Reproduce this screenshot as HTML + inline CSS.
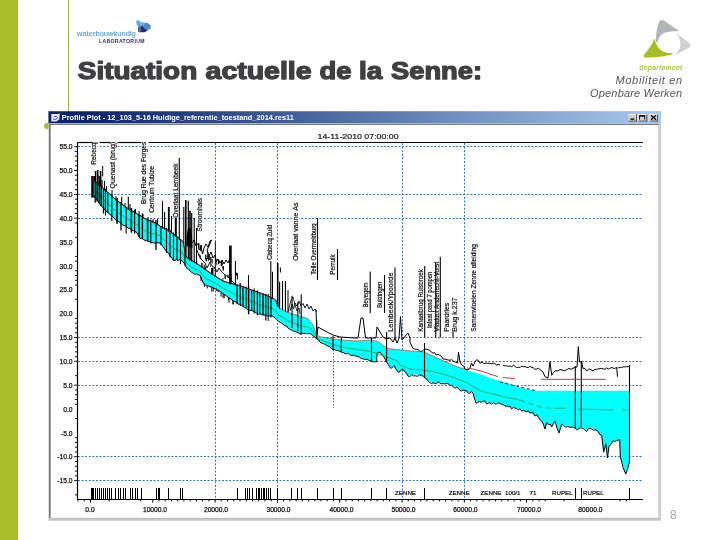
<!DOCTYPE html>
<html><head><meta charset="utf-8"><title>slide</title>
<style>
html,body{margin:0;padding:0;background:#fff;}
body{width:720px;height:540px;position:relative;overflow:hidden;font-family:"Liberation Sans",sans-serif;}
.bar{position:absolute;left:0;top:0;width:18.3px;height:540px;background:#a9bd2a;}
.vline{position:absolute;left:68.2px;top:0;width:0.9px;height:112px;background:#a6b545;}
.dot{position:absolute;left:44.3px;top:122.8px;width:6.2px;height:6.2px;border-radius:50%;background:#a9bd2a;}
svg{position:absolute;left:0;top:0;will-change:transform;}
svg text{font-family:"Liberation Sans",sans-serif;}
.g{stroke:#2a6ebc;stroke-width:1;stroke-dasharray:1.9 1.7;}
.k{stroke:#000;stroke-width:1.1;}
.vl{font-size:6.6px;fill:#111;stroke:#111;stroke-width:0.2px;font-family:"Liberation Sans",sans-serif;}
.yl{font-size:6.7px;fill:#111;stroke:#111;stroke-width:0.25px;text-anchor:end;font-family:"Liberation Sans",sans-serif;}
.xl{font-size:6.7px;fill:#111;stroke:#111;stroke-width:0.25px;text-anchor:middle;font-family:"Liberation Sans",sans-serif;}
.bl{font-size:6.2px;fill:#111;stroke:#111;stroke-width:0.2px;font-family:"Liberation Sans",sans-serif;}
.tt{font-size:8px;fill:#111;stroke:#111;stroke-width:0.2px;text-anchor:middle;font-family:"Liberation Sans",sans-serif;}
</style></head><body>
<div class="bar"></div><div class="vline"></div><div class="dot"></div>
<svg width="720" height="540" viewBox="0 0 720 540">
<defs><linearGradient id="tbg" x1="0" y1="0" x2="1" y2="0"><stop offset="0" stop-color="#0a246a"/><stop offset="0.06" stop-color="#0a246a"/><stop offset="1" stop-color="#a6caf0"/></linearGradient></defs>
<rect x="48.4" y="111.3" width="612.5" height="409.5" fill="#cac8c4"/>
<rect x="49.3" y="111.3" width="1.45" height="406.6" fill="#5a5a5a"/>
<rect x="50.7" y="124.9" width="607.6" height="393" fill="#fff"/>
<rect x="48.5" y="111.3" width="612.5" height="12" fill="url(#tbg)"/>
<rect x="48.5" y="123.3" width="610" height="0.9" fill="#b8b8b8"/>
<rect x="50" y="124.1" width="608.5" height="0.9" fill="#777"/>
<rect x="50.7" y="517.9" width="607.6" height="0.6" fill="#b4b2ae"/>
<path d="M51.3,114 L58.2,114 L59.8,113.2 L59.3,119.2 L56.5,121.4 L51.3,121.4 Z" fill="#e8e6fa"/>
<path d="M53,118.8 C54.5,120.2 56.8,119.6 57.6,117.4 L56.4,116.4 L54,116.6" fill="none" stroke="#2a3ca0" stroke-width="0.9"/>
<text x="61.8" y="119.8" font-size="6.6" font-weight="bold" fill="#fff" textLength="232" lengthAdjust="spacingAndGlyphs">Profile Plot - 12_103_5-16 Huidige_referentie_toestand_2014.res11</text>
<g>
<rect x="628.3" y="114.2" width="8" height="7.3" fill="#d4d0c8"/><rect x="628.3" y="120.7" width="8.6" height="0.8" fill="#404040"/><rect x="636.1" y="114.2" width="0.8" height="7.3" fill="#404040"/><rect x="628.3" y="114.2" width="8" height="0.7" fill="#fff"/>
<rect x="638.2" y="114.2" width="8.4" height="7.3" fill="#d4d0c8"/><rect x="638.2" y="120.7" width="9" height="0.8" fill="#404040"/><rect x="646.4" y="114.2" width="0.8" height="7.3" fill="#404040"/><rect x="637.6" y="114.2" width="0.8" height="7.3" fill="#fff"/><rect x="638.2" y="114.2" width="8.4" height="0.7" fill="#fff"/>
<rect x="649.4" y="114.2" width="8" height="7.3" fill="#d4d0c8"/><rect x="649.4" y="120.7" width="8.6" height="0.8" fill="#404040"/><rect x="657.2" y="114.2" width="0.8" height="7.3" fill="#404040"/><rect x="648.8" y="114.2" width="0.8" height="7.3" fill="#fff"/><rect x="649.4" y="114.2" width="8" height="0.7" fill="#fff"/>
<rect x="630.4" y="118.5" width="3.9" height="1.3" fill="#000"/>
<path d="M639.5,119.6 L639.5,115.8 L644.7,115.8 L644.7,119.6" fill="none" stroke="#000" stroke-width="0.9"/><rect x="639" y="115.2" width="6.2" height="1.4" fill="#000"/>
<path d="M651,115.2 L656,119.7 M656,115.2 L651,119.7" stroke="#000" stroke-width="1.3" fill="none"/>
</g>
<line x1="78.0" y1="146.5" x2="643.0" y2="146.5" class="g"/>
<line x1="78.0" y1="194.5" x2="643.0" y2="194.5" class="g"/>
<line x1="78.0" y1="218.5" x2="643.0" y2="218.5" class="g"/>
<line x1="78.0" y1="337.5" x2="643.0" y2="337.5" class="g"/>
<line x1="78.0" y1="361.5" x2="643.0" y2="361.5" class="g"/>
<line x1="78.0" y1="385.5" x2="643.0" y2="385.5" class="g"/>
<line x1="78.0" y1="456.5" x2="643.0" y2="456.5" class="g"/>
<line x1="78.0" y1="480.5" x2="643.0" y2="480.5" class="g"/>
<line x1="215.5" y1="143" x2="215.5" y2="499" class="g"/>
<line x1="277.5" y1="143" x2="277.5" y2="499" class="g"/>
<line x1="402.5" y1="143" x2="402.5" y2="499" class="g"/>
<line x1="464.5" y1="143" x2="464.5" y2="499" class="g"/>
<line x1="333.5" y1="350" x2="333.5" y2="408" stroke="#2a8a2a" stroke-width="1" stroke-dasharray="1.5 1.5"/>
<rect x="90.9" y="141.9" width="6.6" height="23.3" fill="#fff"/>
<rect x="109.8" y="141.2" width="6.6" height="47.7" fill="#fff"/>
<rect x="140.9" y="141.2" width="6.6" height="63.3" fill="#fff"/>
<rect x="148.3" y="165.5" width="6.6" height="47.8" fill="#fff"/>
<rect x="172.6" y="162.9" width="6.6" height="55.4" fill="#fff"/>
<rect x="196.4" y="197.4" width="6.6" height="34.5" fill="#fff"/>
<rect x="266.5" y="224.5" width="6.6" height="35.8" fill="#fff"/>
<rect x="292.6" y="202.0" width="6.6" height="59.3" fill="#fff"/>
<rect x="310.2" y="222.8" width="6.6" height="52.4" fill="#fff"/>
<rect x="329.8" y="253.7" width="6.6" height="21.5" fill="#fff"/>
<rect x="362.9" y="282.0" width="6.6" height="26.0" fill="#fff"/>
<rect x="376.9" y="281.2" width="6.6" height="27.3" fill="#fff"/>
<rect x="387.8" y="272.0" width="6.6" height="60.2" fill="#fff"/>
<rect x="417.6" y="268.5" width="6.6" height="63.7" fill="#fff"/>
<rect x="426.8" y="271.2" width="6.6" height="57.3" fill="#fff"/>
<rect x="433.5" y="261.2" width="6.6" height="71.0" fill="#fff"/>
<rect x="443.5" y="302.5" width="6.6" height="29.7" fill="#fff"/>
<rect x="451.8" y="297.0" width="6.6" height="35.2" fill="#fff"/>
<rect x="470.1" y="243.5" width="6.6" height="88.7" fill="#fff"/>
<polygon points="91.5,178.0 94.0,181.0 101.7,187.5 108.3,193.3 116.7,200.8 126.7,208.3 136.7,214.0 146.7,220.0 156.7,224.0 160.0,226.7 170.0,231.7 178.3,238.3 183.0,242.0 184.5,249.0 185.0,256.0 187.5,258.3 198.3,265.0 210.0,273.3 223.3,281.7 236.7,285.5 240.0,286.0 250.0,290.0 261.7,294.0 273.3,299.0 276.0,301.0 278.3,307.5 288.3,312.5 296.7,315.0 306.7,318.3 308.3,319.0 313.0,325.0 316.7,335.0 320.0,336.7 333.3,339.0 341.7,340.0 356.7,341.0 371.5,340.0 377.8,341.4 382.8,345.0 386.6,348.3 396.7,349.6 410.5,350.9 423.3,351.7 433.0,356.0 443.3,360.8 455.0,365.8 466.7,370.0 480.0,374.0 493.3,379.0 506.7,383.0 516.7,386.7 535.0,390.8 629.5,390.8 629.5,461.7 627.5,468.0 625.8,475.0 623.0,466.0 620.3,455.0 619.7,440.8 616.7,440.0 613.0,441.7 609.0,445.0 607.5,457.5 605.8,445.0 603.7,453.0 601.7,436.7 598.0,432.5 591.7,427.5 586.7,430.0 581.7,426.7 576.7,430.0 575.0,427.5 568.0,426.7 561.7,424.0 559.0,433.0 555.0,421.7 551.7,426.7 546.7,422.5 545.0,429.0 541.7,420.8 536.7,415.8 526.7,411.7 520.0,409.0 506.7,406.7 496.7,403.0 486.7,402.5 476.0,401.7 473.0,392.5 465.0,391.7 455.0,386.7 443.0,382.5 433.0,383.0 425.0,379.0 423.1,376.7 415.6,374.2 408.0,375.4 403.0,370.4 398.6,372.9 394.2,366.6 390.4,367.2 386.6,361.6 384.0,356.5 380.3,352.7 377.2,352.7 376.5,361.6 371.5,361.6 365.2,359.0 352.6,355.3 341.7,352.5 333.0,349.0 321.7,343.0 316.7,339.0 310.0,334.0 300.0,334.0 290.0,329.0 280.0,322.0 273.3,316.7 261.7,315.0 250.0,310.0 240.0,305.0 230.0,299.0 216.7,289.0 210.0,286.7 203.3,283.3 200.0,275.0 193.3,273.3 186.7,268.3 183.3,261.7 180.0,260.0 173.3,260.0 168.3,253.3 160.0,243.0 151.7,243.0 140.0,238.0 136.7,233.0 126.7,226.7 118.0,221.7 108.0,213.0 101.7,206.7 94.0,196.0 91.5,195.0" fill="#00ffff"/>
<polyline points="91.5,194.8 94.0,195.5 95.9,198.9 97.8,200.8 99.8,204.1 101.7,206.5 103.8,208.2 105.9,210.9 108.0,212.4 109.7,214.4 111.3,215.3 113.0,216.8 114.7,218.7 116.3,220.7 118.0,221.2 119.7,222.3 121.5,223.9 123.2,225.3 125.0,225.8 126.7,226.6 128.4,228.4 130.0,228.2 131.7,230.4 133.4,230.6 135.0,231.5 136.7,232.5 138.3,235.2 140.0,238.4 141.7,238.3 143.3,239.5 145.0,240.3 146.7,240.7 148.4,241.6 150.0,241.7 151.7,242.4 153.4,242.6 155.0,243.3 156.7,242.9 158.3,242.7 160.0,243.1 161.7,245.0 163.3,246.8 165.0,249.6 166.6,251.5 168.3,252.9 170.0,255.6 171.6,257.8 173.3,260.5 175.0,260.3 176.7,259.7 178.3,260.7 180.0,259.5 181.7,260.7 183.3,262.1 185.0,264.5 186.7,268.3 188.3,268.9 190.0,271.0 191.7,272.4 193.3,273.4 195.0,274.3 196.7,273.9 198.3,274.8 200.0,275.1 201.7,279.3 203.3,283.2 205.0,284.6 206.7,285.6 208.3,285.8 210.0,286.9 211.7,286.7 213.3,288.1 215.0,288.6 216.7,289.7 218.4,290.7 220.0,291.2 221.7,292.6 223.3,294.2 225.0,294.6 226.7,296.4 228.3,297.3 230.0,298.5 231.7,299.4 233.3,301.4 235.0,301.5 236.7,302.6 238.3,303.8 240.0,305.5 241.7,305.2 243.3,306.6 245.0,307.6 246.7,308.9 248.3,309.6 250.0,310.5 251.7,310.4 253.3,311.3 255.0,311.9 256.7,313.4 258.4,314.2 260.0,313.8 261.7,314.5 263.4,314.9 265.0,315.1 266.7,315.7 268.3,316.1 270.0,315.9 271.6,315.8 273.3,316.6 275.0,317.8 276.6,319.4 278.3,321.3 280.0,322.3 281.7,323.2 283.3,324.5 285.0,325.7 286.7,326.0 288.3,328.4 290.0,329.4 291.7,330.4 293.3,331.1 295.0,331.3 296.7,332.2 298.3,332.6 300.0,334.2 301.7,333.4 303.3,333.4 305.0,333.6 306.7,333.5 308.3,333.8 310.0,333.4 311.7,334.6 313.4,336.0 315.0,337.2 316.7,338.8 318.4,339.7 320.0,342.2 321.7,343.2 323.3,343.4 324.9,344.4 326.5,345.4 328.2,346.2 329.8,346.8 331.4,348.6 333.0,349.7 334.7,349.7 336.5,350.4 338.2,350.5 340.0,351.2 341.7,352.3 343.5,352.6 345.3,353.9 347.1,353.4 349.0,353.7 350.8,355.5 352.6,355.3 354.4,355.3 356.2,356.4 358.0,356.2 359.8,357.5 361.6,358.6 363.4,359.0 365.2,359.3 367.3,359.5 369.4,360.5 371.5,361.1 373.2,362.0 374.8,361.6 376.5,362.0 377.2,352.5 380.3,352.3 382.1,355.0 384.0,357.2 386.6,362.1 388.5,364.8 390.4,368.2 392.3,367.7 394.2,365.7 396.4,369.8 398.6,372.4 400.8,370.1 403.0,368.9 404.7,371.4 406.3,373.0 408.0,376.0 409.9,376.6 411.8,374.6 413.7,375.9 415.6,375.8 417.5,376.3 419.4,375.0 421.2,375.2 423.1,375.8 425.0,378.0 426.6,378.9 428.2,381.0 429.8,382.7 431.4,383.3 433.0,382.9 434.7,383.4 436.3,383.8 438.0,381.4 439.7,383.2 441.3,383.9 443.0,383.4 444.7,383.9 446.4,383.6 448.1,383.3 449.9,385.8 451.6,385.0 453.3,387.1 455.0,388.2 456.7,387.2 458.3,388.1 460.0,390.6 461.7,390.8 463.3,389.8 465.0,390.5 466.6,390.7 468.2,393.3 469.8,393.2 471.4,391.2 473.0,393.5 476.0,403.2 477.8,402.3 479.6,401.5 481.4,402.3 483.1,401.1 484.9,400.8 486.7,404.0 488.4,403.1 490.0,402.8 491.7,404.1 493.4,402.6 495.0,404.1 496.7,404.0 498.4,402.7 500.0,403.4 501.7,404.2 503.4,404.6 505.0,406.4 506.7,405.9 508.4,406.7 510.0,406.1 511.7,408.9 513.4,407.4 515.0,408.0 516.7,408.7 518.3,410.0 520.0,408.7 521.7,411.0 523.4,410.4 525.0,411.1 526.7,411.8 528.4,410.8 530.0,412.9 531.7,412.7 533.4,412.8 535.0,416.1 536.7,414.8 538.4,417.4 540.0,419.9 541.7,421.0 543.4,424.3 545.0,429.1 546.7,422.7 548.4,424.8 550.0,424.0 551.7,426.9 553.4,423.4 555.0,421.0 557.0,428.2 559.0,433.0 561.7,424.2 563.8,425.7 565.9,427.1 568.0,426.5 569.8,427.3 571.5,427.1 573.2,427.3 575.0,428.1 576.7,429.8 578.4,429.0 580.0,427.7 581.7,428.1 583.4,428.4 585.0,430.1 586.7,431.4 588.4,428.4 590.0,428.5 591.7,428.9 593.8,430.3 595.9,429.7 598.0,431.3 599.9,434.4 601.7,435.3 603.7,452.2 605.8,443.6 607.5,458.0 609.0,445.9 611.0,444.6 613.0,440.6 614.9,441.5 616.7,440.5 619.7,439.7 620.3,456.2 623.0,467.5 625.8,474.1 627.5,469.4 629.5,461.7" fill="none" stroke="#000" stroke-width="1.0"/>
<polyline points="92.0,187.7 94.0,189.2 96.0,191.5 98.0,193.8 100.0,196.1 102.0,198.3 104.0,200.2 106.0,202.1 108.0,204.0 110.0,205.8 112.0,207.5 114.0,209.3 116.0,211.1 118.0,212.7 120.0,214.0 122.0,215.3 124.0,216.7 126.0,218.0 128.0,219.2 130.0,220.4 132.0,221.6 134.0,222.8 136.0,224.0 138.0,225.9 140.0,228.1 142.0,229.1 144.0,230.1 146.0,231.1 148.0,232.0 150.0,232.8 152.0,233.6 154.0,234.0 156.0,234.3 158.0,234.9 160.0,235.7 162.0,237.5 164.0,239.3 166.0,241.1 168.0,242.9 170.0,244.8 172.0,247.0 174.0,248.7 176.0,249.4 178.0,250.1 180.0,250.8 182.0,252.1 184.0,255.7 186.0,262.4 188.0,264.5 190.0,265.9 192.0,267.3 194.0,268.5 196.0,269.3 198.0,270.1 200.0,271.0 202.0,274.4 204.0,277.1 206.0,278.3 208.0,279.5 210.0,280.7 212.0,281.6 214.0,282.6 216.0,283.5 218.0,284.7 220.0,286.1 222.0,287.5 224.0,288.8 226.0,289.9 228.0,291.0 230.0,292.1 232.0,293.0 234.0,293.9 236.0,294.8 238.0,295.7 240.0,296.4 242.0,297.4 244.0,298.3 246.0,299.2 248.0,300.1 250.0,301.0 252.0,301.8 254.0,302.6 256.0,303.3 258.0,304.1 260.0,304.9 262.0,305.6 264.0,306.2 266.0,306.7 268.0,307.3 270.0,307.8 272.0,308.4 274.0,309.3 276.0,310.8 278.0,314.2 280.0,315.9 282.0,317.1 284.0,318.3 286.0,319.5 288.0,320.7 290.0,321.8 292.0,322.6 294.0,323.4 296.0,324.3 298.0,325.1 300.0,325.9 302.0,326.2 304.0,326.5 306.0,326.8 308.0,327.2 310.0,328.2 312.0,330.2 314.0,332.8 316.0,336.1 318.0,338.1 320.0,339.4 322.0,340.4 324.0,341.1 326.0,341.9 328.0,342.6 330.0,343.4 332.0,344.1 334.0,344.8 336.0,345.3 338.0,345.9 340.0,346.4 342.0,346.9 344.0,347.3 346.0,347.6 348.0,348.0 350.0,348.3 352.0,348.6 354.0,349.0 356.0,349.4 358.0,349.7 360.0,350.0 362.0,350.2 364.0,350.5 366.0,350.8 368.0,351.2 370.0,351.6 372.0,351.9 396.0,360.3 398.0,362.0 400.0,365.0 410.0,369.0 423.0,370.0 433.0,371.7 443.0,374.0 455.0,378.0 466.7,382.5 480.0,390.8 493.0,394.0 506.7,397.5 520.0,400.0" fill="none" stroke="#1c9a3a" stroke-width="0.8"/>
<polyline points="520.0,400.0 541.7,407.5 555.0,408.3" fill="none" stroke="#1c9a3a" stroke-width="0.9" stroke-dasharray="5 4"/>
<polyline points="555.0,408.3 565.0,408.3" fill="none" stroke="#1c9a3a" stroke-width="0.9"/>
<polyline points="578.0,409.0 613.0,410.0" fill="none" stroke="#1c9a3a" stroke-width="0.9"/>
<polyline points="622.0,410.0 628.0,410.0" fill="none" stroke="#1c9a3a" stroke-width="0.9"/>
<polyline points="91.5,178.0 94.0,181.0 101.7,187.5 108.3,193.3 116.7,200.8 126.7,208.3 136.7,214.0 146.7,220.0 156.7,224.0 160.0,226.7 170.0,231.7 178.3,238.3 183.0,242.0 184.5,249.0 185.0,256.0 187.5,258.3 198.3,265.0 210.0,273.3 223.3,281.7 236.7,285.5 240.0,286.0 250.0,290.0 261.7,294.0 273.3,299.0 276.0,301.0 278.3,307.5" fill="none" stroke="#000" stroke-width="1.0" transform="translate(0,-0.6)"/>
<line x1="92.5" y1="176.0" x2="92.5" y2="197.7" stroke="#000" stroke-width="2.40"/>
<line x1="95.2" y1="178.0" x2="95.2" y2="202.7" stroke="#000" stroke-width="1.30"/>
<line x1="97.2" y1="181.7" x2="97.2" y2="201.4" stroke="#000" stroke-width="1.60"/>
<line x1="99.2" y1="183.4" x2="99.2" y2="203.2" stroke="#000" stroke-width="1.30"/>
<line x1="101.2" y1="185.1" x2="101.2" y2="206.0" stroke="#000" stroke-width="1.60"/>
<line x1="103.5" y1="188.1" x2="103.5" y2="213.5" stroke="#000" stroke-width="1.30"/>
<line x1="105.5" y1="188.8" x2="105.5" y2="215.5" stroke="#000" stroke-width="1.10"/>
<line x1="107.8" y1="191.9" x2="107.8" y2="212.8" stroke="#000" stroke-width="1.10"/>
<line x1="111.8" y1="194.4" x2="111.8" y2="221.3" stroke="#000" stroke-width="1.10"/>
<line x1="117.0" y1="198.0" x2="117.0" y2="223.8" stroke="#000" stroke-width="1.60"/>
<line x1="121.0" y1="202.0" x2="121.0" y2="230.4" stroke="#000" stroke-width="1.30"/>
<line x1="126.2" y1="206.9" x2="126.2" y2="233.4" stroke="#000" stroke-width="1.10"/>
<line x1="131.4" y1="208.0" x2="131.4" y2="232.7" stroke="#000" stroke-width="1.60"/>
<line x1="134.6" y1="209.8" x2="134.6" y2="233.7" stroke="#000" stroke-width="1.10"/>
<line x1="139.2" y1="214.5" x2="139.2" y2="236.8" stroke="#000" stroke-width="1.60"/>
<line x1="142.4" y1="213.4" x2="142.4" y2="239.0" stroke="#000" stroke-width="1.30"/>
<line x1="147.6" y1="219.4" x2="147.6" y2="241.2" stroke="#000" stroke-width="1.60"/>
<line x1="150.8" y1="219.6" x2="150.8" y2="243.6" stroke="#000" stroke-width="1.10"/>
<line x1="156.0" y1="219.7" x2="156.0" y2="250.0" stroke="#000" stroke-width="1.30"/>
<line x1="161.0" y1="226.2" x2="161.0" y2="245.2" stroke="#000" stroke-width="1.10"/>
<line x1="166.5" y1="227.9" x2="166.5" y2="253.1" stroke="#000" stroke-width="1.10"/>
<line x1="170.0" y1="229.7" x2="170.0" y2="257.6" stroke="#000" stroke-width="1.10"/>
<line x1="173.5" y1="232.5" x2="173.5" y2="260.0" stroke="#000" stroke-width="1.10"/>
<line x1="177.0" y1="236.3" x2="177.0" y2="260.0" stroke="#000" stroke-width="1.10"/>
<line x1="180.5" y1="239.0" x2="180.5" y2="264.3" stroke="#000" stroke-width="1.10"/>
<line x1="185.0" y1="255.0" x2="185.0" y2="266.0" stroke="#000" stroke-width="1.10"/>
<line x1="237.0" y1="284.5" x2="237.0" y2="304.2" stroke="#000" stroke-width="1.20"/>
<line x1="240.2" y1="283.1" x2="240.2" y2="305.1" stroke="#000" stroke-width="1.20"/>
<line x1="243.0" y1="286.2" x2="243.0" y2="306.5" stroke="#000" stroke-width="1.20"/>
<line x1="246.2" y1="286.5" x2="246.2" y2="308.1" stroke="#000" stroke-width="1.00"/>
<line x1="248.6" y1="286.4" x2="248.6" y2="314.3" stroke="#000" stroke-width="1.40"/>
<line x1="251.8" y1="290.1" x2="251.8" y2="310.8" stroke="#000" stroke-width="1.00"/>
<line x1="254.2" y1="288.4" x2="254.2" y2="313.8" stroke="#000" stroke-width="1.00"/>
<line x1="257.4" y1="290.5" x2="257.4" y2="315.2" stroke="#000" stroke-width="1.20"/>
<line x1="259.8" y1="292.9" x2="259.8" y2="314.2" stroke="#000" stroke-width="1.00"/>
<line x1="263.0" y1="293.6" x2="263.0" y2="315.2" stroke="#000" stroke-width="1.40"/>
<line x1="265.8" y1="293.8" x2="265.8" y2="320.6" stroke="#000" stroke-width="1.20"/>
<line x1="268.2" y1="293.8" x2="268.2" y2="321.0" stroke="#000" stroke-width="1.00"/>
<line x1="271.0" y1="297.0" x2="271.0" y2="317.4" stroke="#000" stroke-width="1.20"/>
<line x1="292.0" y1="295.7" x2="292.0" y2="328.3" stroke="#000" stroke-width="1.10"/>
<line x1="297.8" y1="302.6" x2="297.8" y2="331.0" stroke="#000" stroke-width="1.10"/>
<line x1="301.2" y1="294.3" x2="301.2" y2="334.6" stroke="#000" stroke-width="1.10"/>
<line x1="316.7" y1="320.0" x2="316.7" y2="339.0" stroke="#000" stroke-width="1.10"/>
<line x1="333.0" y1="336.0" x2="333.0" y2="349.0" stroke="#000" stroke-width="1.10"/>
<line x1="341.3" y1="338.0" x2="341.3" y2="352.0" stroke="#000" stroke-width="1.10"/>
<line x1="371.5" y1="338.0" x2="371.5" y2="361.6" stroke="#000" stroke-width="1.10"/>
<line x1="386.6" y1="332.0" x2="386.6" y2="361.6" stroke="#000" stroke-width="1.10"/>
<line x1="424.5" y1="343.0" x2="424.5" y2="378.0" stroke="#000" stroke-width="1.10"/>
<line x1="575.3" y1="366.0" x2="575.3" y2="428.0" stroke="#000" stroke-width="1.10"/>
<line x1="581.3" y1="361.0" x2="581.3" y2="427.0" stroke="#000" stroke-width="1.10"/>
<line x1="629.5" y1="365.0" x2="629.5" y2="462.0" stroke="#000" stroke-width="1.10"/>
<line x1="94.4" y1="176.0" x2="94.4" y2="181.8" stroke="#000" stroke-width="1.30"/>
<line x1="95.6" y1="171.0" x2="95.6" y2="182.9" stroke="#000" stroke-width="1.50"/>
<line x1="97.7" y1="170.0" x2="97.7" y2="184.6" stroke="#000" stroke-width="1.60"/>
<line x1="99.2" y1="176.0" x2="99.2" y2="185.9" stroke="#000" stroke-width="1.40"/>
<line x1="100.6" y1="171.0" x2="100.6" y2="187.1" stroke="#000" stroke-width="1.60"/>
<line x1="102.0" y1="180.0" x2="102.0" y2="188.3" stroke="#000" stroke-width="1.20"/>
<line x1="104.5" y1="181.0" x2="104.5" y2="190.5" stroke="#000" stroke-width="1.00"/>
<line x1="106.5" y1="186.0" x2="106.5" y2="192.2" stroke="#000" stroke-width="1.00"/>
<line x1="112.0" y1="190.0" x2="112.0" y2="197.1" stroke="#000" stroke-width="1.00"/>
<line x1="116.0" y1="196.0" x2="116.0" y2="200.7" stroke="#000" stroke-width="1.00"/>
<line x1="121.7" y1="196.7" x2="121.7" y2="205.1" stroke="#000" stroke-width="1.10"/>
<line x1="125.0" y1="203.0" x2="125.0" y2="207.5" stroke="#000" stroke-width="1.00"/>
<line x1="128.3" y1="196.7" x2="128.3" y2="209.7" stroke="#000" stroke-width="1.10"/>
<line x1="130.0" y1="204.0" x2="130.0" y2="210.7" stroke="#000" stroke-width="1.10"/>
<line x1="135.4" y1="209.0" x2="135.4" y2="213.8" stroke="#000" stroke-width="1.00"/>
<line x1="139.0" y1="211.0" x2="139.0" y2="215.9" stroke="#000" stroke-width="1.00"/>
<line x1="143.0" y1="214.0" x2="143.0" y2="218.3" stroke="#000" stroke-width="1.00"/>
<line x1="148.0" y1="217.0" x2="148.0" y2="221.0" stroke="#000" stroke-width="1.00"/>
<line x1="153.0" y1="219.0" x2="153.0" y2="223.0" stroke="#000" stroke-width="1.00"/>
<line x1="157.5" y1="219.0" x2="157.5" y2="225.2" stroke="#000" stroke-width="1.00"/>
<line x1="162.5" y1="200.8" x2="162.5" y2="228.4" stroke="#000" stroke-width="1.10"/>
<line x1="164.6" y1="212.0" x2="164.6" y2="229.5" stroke="#000" stroke-width="1.10"/>
<line x1="168.8" y1="207.0" x2="168.8" y2="231.6" stroke="#000" stroke-width="1.80"/>
<line x1="171.5" y1="216.0" x2="171.5" y2="233.4" stroke="#000" stroke-width="1.00"/>
<line x1="175.8" y1="218.0" x2="175.8" y2="236.8" stroke="#000" stroke-width="2.00"/>
<line x1="183.8" y1="206.7" x2="183.8" y2="246.0" stroke="#000" stroke-width="1.10"/>
<line x1="185.8" y1="200.0" x2="185.8" y2="257.2" stroke="#000" stroke-width="1.60"/>
<line x1="188.3" y1="200.8" x2="188.3" y2="259.3" stroke="#000" stroke-width="1.20"/>
<line x1="190.0" y1="210.8" x2="190.0" y2="260.4" stroke="#000" stroke-width="1.60"/>
<line x1="191.7" y1="213.0" x2="191.7" y2="261.4" stroke="#000" stroke-width="1.20"/>
<line x1="194.2" y1="218.0" x2="194.2" y2="263.0" stroke="#000" stroke-width="1.10"/>
<line x1="196.5" y1="228.0" x2="196.5" y2="264.4" stroke="#000" stroke-width="1.00"/>
<line x1="230.4" y1="245.5" x2="230.4" y2="284.2" stroke="#000" stroke-width="2.60"/>
<line x1="235.4" y1="261.0" x2="235.4" y2="285.6" stroke="#000" stroke-width="1.00"/>
<line x1="248.5" y1="275.0" x2="248.5" y2="289.9" stroke="#000" stroke-width="1.00"/>
<line x1="270.8" y1="261.0" x2="270.8" y2="298.4" stroke="#000" stroke-width="1.10"/>
<line x1="272.5" y1="271.7" x2="272.5" y2="299.2" stroke="#000" stroke-width="1.10"/>
<line x1="277.7" y1="263.0" x2="277.7" y2="306.3" stroke="#000" stroke-width="1.60"/>
<line x1="279.6" y1="281.7" x2="279.6" y2="308.6" stroke="#000" stroke-width="1.10"/>
<line x1="282.5" y1="281.0" x2="282.5" y2="310.1" stroke="#000" stroke-width="1.10"/>
<line x1="285.4" y1="281.0" x2="285.4" y2="311.5" stroke="#000" stroke-width="1.10"/>
<line x1="288.0" y1="290.0" x2="288.0" y2="312.9" stroke="#000" stroke-width="1.00"/>
<line x1="102.7" y1="166.0" x2="102.7" y2="176.4" stroke="#000" stroke-width="1.00"/>
<line x1="280.4" y1="267.5" x2="280.4" y2="272.5" stroke="#000" stroke-width="1.00"/>
<polygon points="186.6,236 188,228 190.5,228 192,236 192.5,248 186.3,246" fill="#000"/>
<line x1="222.9" y1="277.9" x2="222.9" y2="281.3" stroke="#000" stroke-width="0.80"/>
<line x1="201.9" y1="262.4" x2="201.9" y2="267.5" stroke="#000" stroke-width="1.30"/>
<line x1="199.7" y1="254.1" x2="199.7" y2="256.2" stroke="#000" stroke-width="0.80"/>
<line x1="205.8" y1="254.7" x2="205.8" y2="259.5" stroke="#000" stroke-width="1.30"/>
<line x1="223.3" y1="267.3" x2="223.3" y2="270.4" stroke="#000" stroke-width="1.30"/>
<line x1="207.7" y1="250.4" x2="207.7" y2="256.2" stroke="#000" stroke-width="0.80"/>
<line x1="225.3" y1="276.2" x2="225.3" y2="279.0" stroke="#000" stroke-width="1.00"/>
<line x1="200.3" y1="255.4" x2="200.3" y2="259.2" stroke="#000" stroke-width="1.00"/>
<line x1="221.4" y1="260.5" x2="221.4" y2="266.2" stroke="#000" stroke-width="1.30"/>
<line x1="201.2" y1="244.7" x2="201.2" y2="247.1" stroke="#000" stroke-width="1.00"/>
<line x1="230.8" y1="274.2" x2="230.8" y2="280.6" stroke="#000" stroke-width="1.30"/>
<line x1="204.1" y1="264.6" x2="204.1" y2="269.1" stroke="#000" stroke-width="1.00"/>
<line x1="237.4" y1="273.0" x2="237.4" y2="279.4" stroke="#000" stroke-width="1.00"/>
<line x1="207.7" y1="255.3" x2="207.7" y2="259.1" stroke="#000" stroke-width="1.00"/>
<line x1="210.9" y1="256.8" x2="210.9" y2="262.3" stroke="#000" stroke-width="1.30"/>
<line x1="223.2" y1="265.9" x2="223.2" y2="268.7" stroke="#000" stroke-width="1.30"/>
<line x1="206.3" y1="258.0" x2="206.3" y2="261.3" stroke="#000" stroke-width="1.30"/>
<line x1="224.9" y1="274.5" x2="224.9" y2="278.2" stroke="#000" stroke-width="0.80"/>
<line x1="205.6" y1="266.5" x2="205.6" y2="270.1" stroke="#000" stroke-width="1.00"/>
<line x1="198.8" y1="243.2" x2="198.8" y2="248.0" stroke="#000" stroke-width="1.30"/>
<line x1="209.2" y1="256.0" x2="209.2" y2="260.0" stroke="#000" stroke-width="1.30"/>
<line x1="215.3" y1="268.1" x2="215.3" y2="271.3" stroke="#000" stroke-width="1.30"/>
<line x1="218.6" y1="260.1" x2="218.6" y2="264.2" stroke="#000" stroke-width="1.30"/>
<line x1="212.8" y1="267.4" x2="212.8" y2="274.4" stroke="#000" stroke-width="1.30"/>
<line x1="216.7" y1="258.7" x2="216.7" y2="265.0" stroke="#000" stroke-width="0.80"/>
<line x1="222.4" y1="261.5" x2="222.4" y2="265.6" stroke="#000" stroke-width="0.80"/>
<line x1="212.2" y1="259.2" x2="212.2" y2="263.5" stroke="#000" stroke-width="1.00"/>
<line x1="236.8" y1="272.9" x2="236.8" y2="274.9" stroke="#000" stroke-width="1.30"/>
<line x1="200.8" y1="245.2" x2="200.8" y2="251.0" stroke="#000" stroke-width="1.30"/>
<line x1="210.3" y1="264.3" x2="210.3" y2="267.1" stroke="#000" stroke-width="0.80"/>
<line x1="236.1" y1="272.5" x2="236.1" y2="275.8" stroke="#000" stroke-width="1.30"/>
<line x1="228.0" y1="274.8" x2="228.0" y2="277.4" stroke="#000" stroke-width="1.30"/>
<line x1="208.5" y1="255.8" x2="208.5" y2="260.9" stroke="#000" stroke-width="0.80"/>
<line x1="211.7" y1="268.0" x2="211.7" y2="274.4" stroke="#000" stroke-width="1.30"/>
<line x1="232.9" y1="300.2" x2="232.9" y2="304.0" stroke="#000" stroke-width="1.00"/>
<line x1="216.6" y1="288.5" x2="216.6" y2="290.8" stroke="#000" stroke-width="1.00"/>
<line x1="211.8" y1="286.8" x2="211.8" y2="291.8" stroke="#000" stroke-width="1.00"/>
<line x1="228.7" y1="297.5" x2="228.7" y2="300.2" stroke="#000" stroke-width="1.00"/>
<line x1="207.2" y1="284.8" x2="207.2" y2="288.5" stroke="#000" stroke-width="1.00"/>
<line x1="201.0" y1="277.0" x2="201.0" y2="281.2" stroke="#000" stroke-width="1.00"/>
<line x1="229.0" y1="297.8" x2="229.0" y2="302.7" stroke="#000" stroke-width="1.00"/>
<line x1="218.2" y1="289.7" x2="218.2" y2="292.0" stroke="#000" stroke-width="1.00"/>
<line x1="223.1" y1="293.3" x2="223.1" y2="298.1" stroke="#000" stroke-width="1.00"/>
<line x1="204.3" y1="283.3" x2="204.3" y2="286.9" stroke="#000" stroke-width="1.00"/>
<line x1="221.1" y1="291.8" x2="221.1" y2="296.7" stroke="#000" stroke-width="1.00"/>
<line x1="233.3" y1="300.5" x2="233.3" y2="304.7" stroke="#000" stroke-width="1.00"/>
<line x1="224.2" y1="294.2" x2="224.2" y2="298.3" stroke="#000" stroke-width="1.00"/>
<line x1="213.2" y1="287.3" x2="213.2" y2="291.3" stroke="#000" stroke-width="1.00"/>
<line x1="215.3" y1="241.8" x2="215.3" y2="276.0" stroke="#000" stroke-width="0.90"/>
<polyline points="192.5,243.0 194.0,240.0 196.0,246.0 198.0,243.5 199.0,250.0 201.0,247.0 202.5,254.0 204.0,248.0 206.0,244.0 208.0,247.0 210.0,241.0 211.5,240.0 209.0,246.0 207.0,250.0 209.0,256.0 211.0,252.0 213.0,258.0 215.0,255.0 216.0,262.0 218.0,259.0 220.0,263.0 222.0,260.0 224.0,264.0 226.0,260.0 228.0,263.0 230.0,258.0" fill="none" stroke="#000" stroke-width="1.00" stroke-linejoin="miter"/>
<polyline points="197.0,250.0 199.0,256.0 202.0,260.0 205.0,263.0 207.0,268.0 210.0,262.0 212.0,266.0 215.0,268.0 217.0,272.0 219.0,268.0 221.0,271.0 224.0,274.0 227.0,276.0 230.0,279.0 233.0,282.0 236.0,285.0" fill="none" stroke="#000" stroke-width="0.90" stroke-linejoin="miter"/>
<polyline points="290.0,311.0 292.0,304.0 293.5,309.0 295.0,303.0 297.0,306.0 299.0,301.0 301.0,306.0 303.0,303.5 305.0,308.0 307.0,304.0 309.0,309.0 311.0,306.0 313.0,311.0 315.0,309.0 316.5,312.0" fill="none" stroke="#000" stroke-width="0.90" stroke-linejoin="miter"/>
<polyline points="288.0,312.0 291.0,300.0 293.0,297.0 295.0,305.0 297.0,311.0 299.0,308.0 300.0,314.0" fill="none" stroke="#000" stroke-width="0.80" stroke-linejoin="miter"/>
<polyline points="316.0,310.0 317.0,335.0 318.0,327.0 325.0,331.0 333.0,335.0 340.0,337.0 355.0,338.0 358.0,338.0 361.0,318.0 363.0,318.0 365.5,338.0 370.0,338.0 376.0,338.0 377.0,327.0 380.0,332.0 383.0,337.0 386.0,339.0 390.0,338.0 393.0,342.0 395.0,338.0 397.0,343.0 399.0,338.0 400.5,316.5 402.0,340.0 404.0,338.0 406.0,335.0 408.0,333.0 410.0,338.0 410.0,342.3 413.0,348.4 414.7,349.0 416.3,349.3 418.0,349.4 419.9,351.1 421.7,351.7 423.4,350.0 425.0,349.0 427.0,349.4 429.0,349.9 431.0,351.7 433.0,353.2 434.7,352.7 436.3,355.0 438.0,354.4 439.7,355.4 441.3,356.0 443.0,359.1 445.0,359.0 447.0,359.8 450.0,360.3 451.7,359.6 453.3,361.0 455.0,362.0 457.5,363.0 458.5,352.0 460.0,362.0 461.7,365.0 463.4,365.7 465.0,369.0 468.0,370.0 470.0,368.0 471.5,363.0 473.0,366.0 475.0,362.0 476.7,359.7 478.4,360.5 480.0,363.2 482.0,361.8 484.0,363.8 486.0,362.9 487.8,363.4 489.5,363.2 491.2,363.7 493.0,363.3 494.8,363.2 496.5,365.3 498.2,364.2 500.0,365.0" fill="none" stroke="#000" stroke-width="1.0"/>
<polyline points="503.0,365.3 504.8,365.7 506.5,365.9 508.2,366.3 510.0,366.0 511.7,366.7 513.4,365.1 515.0,366.3 516.7,367.7 518.4,367.1 520.0,367.7 521.7,366.0 523.3,366.9 525.0,366.4 526.6,367.3 528.2,367.6 529.8,366.5 531.4,367.2 533.0,367.5 534.8,369.2 536.5,369.1 538.2,368.0 540.0,369.7 543.0,372.0 545.0,376.7 548.0,378.0 550.0,361.7 551.7,375.3 553.4,372.7 555.0,370.9 558.0,370.8 560.0,369.6 562.0,369.9 564.4,370.8 566.7,369.8 568.9,368.3 571.0,369.5 573.0,368.1 575.0,367.5 577.0,367.0 578.3,346.7 579.5,362.0 581.7,361.7 583.0,368.4 584.9,368.4 586.7,371.0 588.4,369.4 590.0,369.0 593.0,370.9 594.8,369.4 596.5,369.4 598.2,368.9 600.0,368.7 601.7,368.4 603.4,368.8 605.0,369.4 606.7,367.9 608.5,369.1 610.2,368.0 612.0,367.6 614.4,368.5 616.7,367.5 617.5,376.7" fill="none" stroke="#000" stroke-width="1.0"/>
<polyline points="617.5,368.0 623.0,367.0 629.5,366.5" fill="none" stroke="#000" stroke-width="0.9"/>
<polyline points="91.5,178.0 94.0,181.0 101.7,187.5 108.3,193.3 116.7,200.8 126.7,208.3 136.7,214.0 146.7,220.0 156.7,224.0 160.0,226.7 170.0,231.7 178.3,238.3 183.0,242.0 184.5,249.0 185.0,256.0 187.5,258.3 198.3,265.0 210.0,273.3 223.3,281.7 236.7,285.5 240.0,286.0 250.0,290.0 261.7,294.0 273.3,299.0 276.0,301.0 278.3,307.5 288.3,312.5 296.7,315.0 306.7,318.3 308.3,319.0 313.0,325.0 316.7,335.0 320.0,336.7 333.3,339.0 341.7,340.0 356.7,341.0 371.5,340.0 377.8,341.4 382.8,345.0 386.6,348.3 396.7,349.6 410.5,350.9 423.3,351.7 433.0,356.0 443.3,360.8 455.0,365.8 466.7,370.0" fill="none" stroke="#c8201c" stroke-width="0.6"/>
<polyline points="466.7,368.0 473.0,369.0 483.0,371.7 493.0,375.0 498.0,376.7" fill="none" stroke="#c8201c" stroke-width="0.9"/>
<polyline points="503.0,377.5 515.0,378.7" fill="none" stroke="#c8201c" stroke-width="0.9"/>
<polyline points="540.8,379.3 605.8,379.3" fill="none" stroke="#c21f1f" stroke-width="0.9"/>
<polyline points="500.0,382.0 516.7,386.2 535.0,390.4" fill="none" stroke="#000" stroke-width="0.8" stroke-dasharray="3 2.5"/>
<line x1="179.3" y1="158.0" x2="179.3" y2="240.0" class="k"/>
<line x1="317.5" y1="218.0" x2="317.5" y2="280.0" class="k"/>
<line x1="337.5" y1="249.0" x2="337.5" y2="280.0" class="k"/>
<line x1="370.2" y1="271.5" x2="370.2" y2="313.0" class="k"/>
<line x1="384.5" y1="275.0" x2="384.5" y2="313.0" class="k"/>
<line x1="395.0" y1="267.5" x2="395.0" y2="340.0" class="k"/>
<line x1="424.7" y1="266.0" x2="424.7" y2="337.5" class="k"/>
<line x1="435.8" y1="263.0" x2="435.8" y2="337.5" class="k"/>
<line x1="440.3" y1="256.7" x2="440.3" y2="337.5" class="k"/>
<line x1="453.0" y1="331.7" x2="453.0" y2="337.5" class="k"/>
<text transform="translate(96.3 164.7) rotate(-90)" class="vl" textLength="22.3" lengthAdjust="spacingAndGlyphs">Rebecq</text>
<text transform="translate(115.2 188.4) rotate(-90)" class="vl" textLength="46.7" lengthAdjust="spacingAndGlyphs">Quenast (brug)</text>
<text transform="translate(146.3 204.0) rotate(-90)" class="vl" textLength="62.3" lengthAdjust="spacingAndGlyphs">Brug Rue des Forges</text>
<text transform="translate(153.7 212.8) rotate(-90)" class="vl" textLength="46.8" lengthAdjust="spacingAndGlyphs">Centrum Tubize</text>
<text transform="translate(178.0 217.8) rotate(-90)" class="vl" textLength="54.4" lengthAdjust="spacingAndGlyphs">Overlaat Lembeek</text>
<text transform="translate(201.8 231.4) rotate(-90)" class="vl" textLength="33.5" lengthAdjust="spacingAndGlyphs">Stroomhals</text>
<text transform="translate(271.9 259.8) rotate(-90)" class="vl" textLength="34.8" lengthAdjust="spacingAndGlyphs">Clabecq Zuid</text>
<text transform="translate(298.0 260.8) rotate(-90)" class="vl" textLength="58.3" lengthAdjust="spacingAndGlyphs">Overlaat vanne As</text>
<text transform="translate(315.6 274.7) rotate(-90)" class="vl" textLength="51.4" lengthAdjust="spacingAndGlyphs">Telle Overmeirburg</text>
<text transform="translate(335.2 274.7) rotate(-90)" class="vl" textLength="20.5" lengthAdjust="spacingAndGlyphs">Perruik</text>
<text transform="translate(368.3 307.5) rotate(-90)" class="vl" textLength="25.0" lengthAdjust="spacingAndGlyphs">Beyegem</text>
<text transform="translate(382.3 308.0) rotate(-90)" class="vl" textLength="26.3" lengthAdjust="spacingAndGlyphs">Buizingen</text>
<text transform="translate(393.2 331.7) rotate(-90)" class="vl" textLength="59.2" lengthAdjust="spacingAndGlyphs">Lembeek/Ypoorde</text>
<text transform="translate(423.0 331.7) rotate(-90)" class="vl" textLength="62.7" lengthAdjust="spacingAndGlyphs">Kanaalbrug Ruisbroek</text>
<text transform="translate(432.2 328.0) rotate(-90)" class="vl" textLength="56.3" lengthAdjust="spacingAndGlyphs">Inlaat pand 7 pompen</text>
<text transform="translate(438.9 331.7) rotate(-90)" class="vl" textLength="70.0" lengthAdjust="spacingAndGlyphs">Viaduct Anderlecht-Vorst</text>
<text transform="translate(448.9 331.7) rotate(-90)" class="vl" textLength="28.7" lengthAdjust="spacingAndGlyphs">Paardries</text>
<text transform="translate(457.2 331.7) rotate(-90)" class="vl" textLength="34.2" lengthAdjust="spacingAndGlyphs">Brug k.237</text>
<text transform="translate(475.5 331.7) rotate(-90)" class="vl" textLength="87.7" lengthAdjust="spacingAndGlyphs">Samenvloeien Zenne afleiding</text>
<line x1="77.5" y1="142.5" x2="77.5" y2="499.5" stroke="#000" stroke-width="1.2"/>
<line x1="77" y1="499.5" x2="643" y2="499.5" stroke="#000" stroke-width="1.2"/>
<line x1="77.5" y1="142.5" x2="92.5" y2="142.5" stroke="#000" stroke-width="1.2"/>
<line x1="99.5" y1="142.5" x2="110.5" y2="142.5" stroke="#000" stroke-width="1.2"/>
<line x1="117.5" y1="142.5" x2="141.5" y2="142.5" stroke="#000" stroke-width="1.2"/>
<line x1="148.5" y1="142.5" x2="643" y2="142.5" stroke="#000" stroke-width="1.2"/>
<line x1="74.9" y1="494.9" x2="77.5" y2="494.9" stroke="#000" stroke-width="0.9"/>
<line x1="74.1" y1="480.6" x2="77.5" y2="480.6" stroke="#000" stroke-width="0.9"/>
<line x1="74.9" y1="475.8" x2="77.5" y2="475.8" stroke="#000" stroke-width="0.9"/>
<line x1="74.9" y1="471.1" x2="77.5" y2="471.1" stroke="#000" stroke-width="0.9"/>
<line x1="74.9" y1="466.3" x2="77.5" y2="466.3" stroke="#000" stroke-width="0.9"/>
<line x1="74.9" y1="461.5" x2="77.5" y2="461.5" stroke="#000" stroke-width="0.9"/>
<line x1="74.1" y1="456.7" x2="77.5" y2="456.7" stroke="#000" stroke-width="0.9"/>
<line x1="74.9" y1="452.0" x2="77.5" y2="452.0" stroke="#000" stroke-width="0.9"/>
<line x1="74.9" y1="447.2" x2="77.5" y2="447.2" stroke="#000" stroke-width="0.9"/>
<line x1="74.9" y1="442.4" x2="77.5" y2="442.4" stroke="#000" stroke-width="0.9"/>
<line x1="74.9" y1="437.7" x2="77.5" y2="437.7" stroke="#000" stroke-width="0.9"/>
<line x1="74.9" y1="418.6" x2="77.5" y2="418.6" stroke="#000" stroke-width="0.9"/>
<line x1="74.9" y1="404.3" x2="77.5" y2="404.3" stroke="#000" stroke-width="0.9"/>
<line x1="74.9" y1="399.5" x2="77.5" y2="399.5" stroke="#000" stroke-width="0.9"/>
<line x1="74.9" y1="394.7" x2="77.5" y2="394.7" stroke="#000" stroke-width="0.9"/>
<line x1="74.9" y1="390.0" x2="77.5" y2="390.0" stroke="#000" stroke-width="0.9"/>
<line x1="74.1" y1="385.2" x2="77.5" y2="385.2" stroke="#000" stroke-width="0.9"/>
<line x1="74.9" y1="375.7" x2="77.5" y2="375.7" stroke="#000" stroke-width="0.9"/>
<line x1="74.1" y1="361.3" x2="77.5" y2="361.3" stroke="#000" stroke-width="0.9"/>
<line x1="74.9" y1="356.6" x2="77.5" y2="356.6" stroke="#000" stroke-width="0.9"/>
<line x1="74.9" y1="351.8" x2="77.5" y2="351.8" stroke="#000" stroke-width="0.9"/>
<line x1="74.9" y1="347.0" x2="77.5" y2="347.0" stroke="#000" stroke-width="0.9"/>
<line x1="74.9" y1="342.3" x2="77.5" y2="342.3" stroke="#000" stroke-width="0.9"/>
<line x1="74.1" y1="337.5" x2="77.5" y2="337.5" stroke="#000" stroke-width="0.9"/>
<line x1="74.9" y1="332.7" x2="77.5" y2="332.7" stroke="#000" stroke-width="0.9"/>
<line x1="74.9" y1="328.0" x2="77.5" y2="328.0" stroke="#000" stroke-width="0.9"/>
<line x1="74.9" y1="323.2" x2="77.5" y2="323.2" stroke="#000" stroke-width="0.9"/>
<line x1="74.9" y1="318.4" x2="77.5" y2="318.4" stroke="#000" stroke-width="0.9"/>
<line x1="74.9" y1="299.3" x2="77.5" y2="299.3" stroke="#000" stroke-width="0.9"/>
<line x1="74.9" y1="285.0" x2="77.5" y2="285.0" stroke="#000" stroke-width="0.9"/>
<line x1="74.9" y1="280.3" x2="77.5" y2="280.3" stroke="#000" stroke-width="0.9"/>
<line x1="74.9" y1="275.5" x2="77.5" y2="275.5" stroke="#000" stroke-width="0.9"/>
<line x1="74.9" y1="270.7" x2="77.5" y2="270.7" stroke="#000" stroke-width="0.9"/>
<line x1="74.9" y1="261.2" x2="77.5" y2="261.2" stroke="#000" stroke-width="0.9"/>
<line x1="74.9" y1="256.4" x2="77.5" y2="256.4" stroke="#000" stroke-width="0.9"/>
<line x1="74.9" y1="237.3" x2="77.5" y2="237.3" stroke="#000" stroke-width="0.9"/>
<line x1="74.9" y1="223.0" x2="77.5" y2="223.0" stroke="#000" stroke-width="0.9"/>
<line x1="74.1" y1="218.2" x2="77.5" y2="218.2" stroke="#000" stroke-width="0.9"/>
<line x1="74.9" y1="213.5" x2="77.5" y2="213.5" stroke="#000" stroke-width="0.9"/>
<line x1="74.9" y1="208.7" x2="77.5" y2="208.7" stroke="#000" stroke-width="0.9"/>
<line x1="74.9" y1="203.9" x2="77.5" y2="203.9" stroke="#000" stroke-width="0.9"/>
<line x1="74.9" y1="199.2" x2="77.5" y2="199.2" stroke="#000" stroke-width="0.9"/>
<line x1="74.1" y1="194.4" x2="77.5" y2="194.4" stroke="#000" stroke-width="0.9"/>
<line x1="74.9" y1="189.6" x2="77.5" y2="189.6" stroke="#000" stroke-width="0.9"/>
<line x1="74.9" y1="184.9" x2="77.5" y2="184.9" stroke="#000" stroke-width="0.9"/>
<line x1="74.9" y1="180.1" x2="77.5" y2="180.1" stroke="#000" stroke-width="0.9"/>
<line x1="74.9" y1="175.3" x2="77.5" y2="175.3" stroke="#000" stroke-width="0.9"/>
<line x1="74.1" y1="170.5" x2="77.5" y2="170.5" stroke="#000" stroke-width="0.9"/>
<line x1="74.9" y1="165.8" x2="77.5" y2="165.8" stroke="#000" stroke-width="0.9"/>
<line x1="74.9" y1="161.0" x2="77.5" y2="161.0" stroke="#000" stroke-width="0.9"/>
<line x1="74.9" y1="156.2" x2="77.5" y2="156.2" stroke="#000" stroke-width="0.9"/>
<line x1="74.9" y1="151.5" x2="77.5" y2="151.5" stroke="#000" stroke-width="0.9"/>
<line x1="74.1" y1="146.7" x2="77.5" y2="146.7" stroke="#000" stroke-width="0.9"/>
<text x="72.5" y="483.2" class="yl">-15.0</text>
<text x="72.5" y="459.3" class="yl">-10.0</text>
<text x="72.5" y="435.5" class="yl">-5.0</text>
<text x="72.5" y="411.6" class="yl">0.0</text>
<text x="72.5" y="387.8" class="yl">5.0</text>
<text x="72.5" y="363.9" class="yl">10.0</text>
<text x="72.5" y="340.1" class="yl">15.0</text>
<text x="72.5" y="316.2" class="yl">20.0</text>
<text x="72.5" y="292.4" class="yl">25.0</text>
<text x="72.5" y="268.6" class="yl">30.0</text>
<text x="72.5" y="244.7" class="yl">35.0</text>
<text x="72.5" y="220.8" class="yl">40.0</text>
<text x="72.5" y="197.0" class="yl">45.0</text>
<text x="72.5" y="173.1" class="yl">50.0</text>
<text x="72.5" y="149.3" class="yl">55.0</text>
<line x1="78.0" y1="499" x2="78.0" y2="501.4" stroke="#000" stroke-width="1"/>
<line x1="84.3" y1="499" x2="84.3" y2="501.4" stroke="#000" stroke-width="1"/>
<line x1="90.5" y1="499" x2="90.5" y2="502.6" stroke="#000" stroke-width="1"/>
<line x1="109.2" y1="499" x2="109.2" y2="501.4" stroke="#000" stroke-width="1"/>
<line x1="140.3" y1="499" x2="140.3" y2="501.4" stroke="#000" stroke-width="1"/>
<line x1="152.8" y1="499" x2="152.8" y2="502.6" stroke="#000" stroke-width="1"/>
<line x1="159.0" y1="499" x2="159.0" y2="501.4" stroke="#000" stroke-width="1"/>
<line x1="165.3" y1="499" x2="165.3" y2="501.4" stroke="#000" stroke-width="1"/>
<line x1="171.5" y1="499" x2="171.5" y2="501.4" stroke="#000" stroke-width="1"/>
<line x1="177.7" y1="499" x2="177.7" y2="501.4" stroke="#000" stroke-width="1"/>
<line x1="183.9" y1="499" x2="183.9" y2="501.4" stroke="#000" stroke-width="1"/>
<line x1="190.2" y1="499" x2="190.2" y2="501.4" stroke="#000" stroke-width="1"/>
<line x1="196.4" y1="499" x2="196.4" y2="501.4" stroke="#000" stroke-width="1"/>
<line x1="202.6" y1="499" x2="202.6" y2="501.4" stroke="#000" stroke-width="1"/>
<line x1="208.9" y1="499" x2="208.9" y2="501.4" stroke="#000" stroke-width="1"/>
<line x1="215.1" y1="499" x2="215.1" y2="502.6" stroke="#000" stroke-width="1"/>
<line x1="221.3" y1="499" x2="221.3" y2="501.4" stroke="#000" stroke-width="1"/>
<line x1="227.6" y1="499" x2="227.6" y2="501.4" stroke="#000" stroke-width="1"/>
<line x1="233.8" y1="499" x2="233.8" y2="501.4" stroke="#000" stroke-width="1"/>
<line x1="240.0" y1="499" x2="240.0" y2="501.4" stroke="#000" stroke-width="1"/>
<line x1="246.2" y1="499" x2="246.2" y2="501.4" stroke="#000" stroke-width="1"/>
<line x1="252.5" y1="499" x2="252.5" y2="501.4" stroke="#000" stroke-width="1"/>
<line x1="258.7" y1="499" x2="258.7" y2="501.4" stroke="#000" stroke-width="1"/>
<line x1="264.9" y1="499" x2="264.9" y2="501.4" stroke="#000" stroke-width="1"/>
<line x1="271.2" y1="499" x2="271.2" y2="501.4" stroke="#000" stroke-width="1"/>
<line x1="277.4" y1="499" x2="277.4" y2="502.6" stroke="#000" stroke-width="1"/>
<line x1="283.6" y1="499" x2="283.6" y2="501.4" stroke="#000" stroke-width="1"/>
<line x1="289.9" y1="499" x2="289.9" y2="501.4" stroke="#000" stroke-width="1"/>
<line x1="296.1" y1="499" x2="296.1" y2="501.4" stroke="#000" stroke-width="1"/>
<line x1="302.3" y1="499" x2="302.3" y2="501.4" stroke="#000" stroke-width="1"/>
<line x1="308.6" y1="499" x2="308.6" y2="501.4" stroke="#000" stroke-width="1"/>
<line x1="314.8" y1="499" x2="314.8" y2="501.4" stroke="#000" stroke-width="1"/>
<line x1="321.0" y1="499" x2="321.0" y2="501.4" stroke="#000" stroke-width="1"/>
<line x1="327.2" y1="499" x2="327.2" y2="501.4" stroke="#000" stroke-width="1"/>
<line x1="333.5" y1="499" x2="333.5" y2="501.4" stroke="#000" stroke-width="1"/>
<line x1="339.7" y1="499" x2="339.7" y2="502.6" stroke="#000" stroke-width="1"/>
<line x1="345.9" y1="499" x2="345.9" y2="501.4" stroke="#000" stroke-width="1"/>
<line x1="352.2" y1="499" x2="352.2" y2="501.4" stroke="#000" stroke-width="1"/>
<line x1="358.4" y1="499" x2="358.4" y2="501.4" stroke="#000" stroke-width="1"/>
<line x1="364.6" y1="499" x2="364.6" y2="501.4" stroke="#000" stroke-width="1"/>
<line x1="370.9" y1="499" x2="370.9" y2="501.4" stroke="#000" stroke-width="1"/>
<line x1="377.1" y1="499" x2="377.1" y2="501.4" stroke="#000" stroke-width="1"/>
<line x1="383.3" y1="499" x2="383.3" y2="501.4" stroke="#000" stroke-width="1"/>
<line x1="389.5" y1="499" x2="389.5" y2="501.4" stroke="#000" stroke-width="1"/>
<line x1="395.8" y1="499" x2="395.8" y2="501.4" stroke="#000" stroke-width="1"/>
<line x1="402.0" y1="499" x2="402.0" y2="502.6" stroke="#000" stroke-width="1"/>
<line x1="408.2" y1="499" x2="408.2" y2="501.4" stroke="#000" stroke-width="1"/>
<line x1="414.5" y1="499" x2="414.5" y2="501.4" stroke="#000" stroke-width="1"/>
<line x1="420.7" y1="499" x2="420.7" y2="501.4" stroke="#000" stroke-width="1"/>
<line x1="426.9" y1="499" x2="426.9" y2="501.4" stroke="#000" stroke-width="1"/>
<line x1="433.2" y1="499" x2="433.2" y2="501.4" stroke="#000" stroke-width="1"/>
<line x1="439.4" y1="499" x2="439.4" y2="501.4" stroke="#000" stroke-width="1"/>
<line x1="445.6" y1="499" x2="445.6" y2="501.4" stroke="#000" stroke-width="1"/>
<line x1="451.8" y1="499" x2="451.8" y2="501.4" stroke="#000" stroke-width="1"/>
<line x1="458.1" y1="499" x2="458.1" y2="501.4" stroke="#000" stroke-width="1"/>
<line x1="464.3" y1="499" x2="464.3" y2="502.6" stroke="#000" stroke-width="1"/>
<line x1="470.5" y1="499" x2="470.5" y2="501.4" stroke="#000" stroke-width="1"/>
<line x1="476.8" y1="499" x2="476.8" y2="501.4" stroke="#000" stroke-width="1"/>
<line x1="483.0" y1="499" x2="483.0" y2="501.4" stroke="#000" stroke-width="1"/>
<line x1="489.2" y1="499" x2="489.2" y2="501.4" stroke="#000" stroke-width="1"/>
<line x1="495.5" y1="499" x2="495.5" y2="501.4" stroke="#000" stroke-width="1"/>
<line x1="501.7" y1="499" x2="501.7" y2="501.4" stroke="#000" stroke-width="1"/>
<line x1="507.9" y1="499" x2="507.9" y2="501.4" stroke="#000" stroke-width="1"/>
<line x1="514.1" y1="499" x2="514.1" y2="501.4" stroke="#000" stroke-width="1"/>
<line x1="520.4" y1="499" x2="520.4" y2="501.4" stroke="#000" stroke-width="1"/>
<line x1="526.6" y1="499" x2="526.6" y2="502.6" stroke="#000" stroke-width="1"/>
<line x1="532.8" y1="499" x2="532.8" y2="501.4" stroke="#000" stroke-width="1"/>
<line x1="539.1" y1="499" x2="539.1" y2="501.4" stroke="#000" stroke-width="1"/>
<line x1="545.3" y1="499" x2="545.3" y2="501.4" stroke="#000" stroke-width="1"/>
<line x1="564.0" y1="499" x2="564.0" y2="501.4" stroke="#000" stroke-width="1"/>
<line x1="620.1" y1="499" x2="620.1" y2="501.4" stroke="#000" stroke-width="1"/>
<line x1="626.3" y1="499" x2="626.3" y2="501.4" stroke="#000" stroke-width="1"/>
<text x="90.0" y="512" class="xl">0.0</text>
<text x="155.0" y="512" class="xl">10000.0</text>
<text x="216.0" y="512" class="xl">20000.0</text>
<text x="278.5" y="512" class="xl">30000.0</text>
<text x="341.5" y="512" class="xl">40000.0</text>
<text x="403.5" y="512" class="xl">50000.0</text>
<text x="465.4" y="512" class="xl">60000.0</text>
<text x="529.0" y="512" class="xl">70000.0</text>
<text x="590.4" y="512" class="xl">80000.0</text>
<rect x="91" y="488" width="3" height="11" fill="#000"/>
<line x1="95.5" y1="488" x2="95.5" y2="499" stroke="#000" stroke-width="1"/>
<line x1="97.5" y1="488" x2="97.5" y2="499" stroke="#000" stroke-width="1"/>
<line x1="99.5" y1="488" x2="99.5" y2="499" stroke="#000" stroke-width="1"/>
<line x1="101.5" y1="488" x2="101.5" y2="499" stroke="#000" stroke-width="1"/>
<line x1="103.5" y1="488" x2="103.5" y2="499" stroke="#000" stroke-width="1"/>
<line x1="105.5" y1="488" x2="105.5" y2="499" stroke="#000" stroke-width="1"/>
<line x1="107.5" y1="488" x2="107.5" y2="499" stroke="#000" stroke-width="1"/>
<line x1="109.5" y1="488" x2="109.5" y2="499" stroke="#000" stroke-width="1"/>
<line x1="111.5" y1="488" x2="111.5" y2="499" stroke="#000" stroke-width="1"/>
<line x1="115.5" y1="488" x2="115.5" y2="499" stroke="#000" stroke-width="1"/>
<line x1="118.5" y1="488" x2="118.5" y2="499" stroke="#000" stroke-width="1"/>
<line x1="120.5" y1="488" x2="120.5" y2="499" stroke="#000" stroke-width="1"/>
<line x1="123.5" y1="488" x2="123.5" y2="499" stroke="#000" stroke-width="1"/>
<line x1="125.5" y1="488" x2="125.5" y2="499" stroke="#000" stroke-width="1"/>
<line x1="130.5" y1="488" x2="130.5" y2="499" stroke="#000" stroke-width="1"/>
<line x1="132.5" y1="488" x2="132.5" y2="499" stroke="#000" stroke-width="1"/>
<line x1="135.5" y1="488" x2="135.5" y2="499" stroke="#000" stroke-width="1"/>
<line x1="137.5" y1="488" x2="137.5" y2="499" stroke="#000" stroke-width="1"/>
<line x1="141.5" y1="488" x2="141.5" y2="499" stroke="#000" stroke-width="1"/>
<line x1="156.5" y1="488" x2="156.5" y2="499" stroke="#000" stroke-width="1"/>
<line x1="158.5" y1="488" x2="158.5" y2="499" stroke="#000" stroke-width="1"/>
<line x1="159.5" y1="488" x2="159.5" y2="499" stroke="#000" stroke-width="1"/>
<line x1="168.5" y1="488" x2="168.5" y2="499" stroke="#000" stroke-width="1"/>
<line x1="180.5" y1="488" x2="180.5" y2="499" stroke="#000" stroke-width="1"/>
<line x1="182.5" y1="488" x2="182.5" y2="499" stroke="#000" stroke-width="1"/>
<line x1="237.5" y1="488" x2="237.5" y2="499" stroke="#000" stroke-width="1"/>
<line x1="245.5" y1="488" x2="245.5" y2="499" stroke="#000" stroke-width="1"/>
<line x1="247.5" y1="488" x2="247.5" y2="499" stroke="#000" stroke-width="1"/>
<line x1="249.5" y1="488" x2="249.5" y2="499" stroke="#000" stroke-width="1"/>
<line x1="252.5" y1="488" x2="252.5" y2="499" stroke="#000" stroke-width="1"/>
<line x1="256.5" y1="488" x2="256.5" y2="499" stroke="#000" stroke-width="1"/>
<line x1="258.5" y1="488" x2="258.5" y2="499" stroke="#000" stroke-width="1"/>
<line x1="259.5" y1="488" x2="259.5" y2="499" stroke="#000" stroke-width="1"/>
<line x1="261.5" y1="488" x2="261.5" y2="499" stroke="#000" stroke-width="1"/>
<line x1="263.5" y1="488" x2="263.5" y2="499" stroke="#000" stroke-width="1"/>
<line x1="264.5" y1="488" x2="264.5" y2="499" stroke="#000" stroke-width="1"/>
<line x1="266.5" y1="488" x2="266.5" y2="499" stroke="#000" stroke-width="1"/>
<line x1="268.5" y1="488" x2="268.5" y2="499" stroke="#000" stroke-width="1"/>
<line x1="270.5" y1="488" x2="270.5" y2="499" stroke="#000" stroke-width="1"/>
<line x1="277.5" y1="488" x2="277.5" y2="499" stroke="#000" stroke-width="1"/>
<line x1="291.5" y1="488" x2="291.5" y2="499" stroke="#000" stroke-width="1"/>
<line x1="297.5" y1="488" x2="297.5" y2="499" stroke="#000" stroke-width="1"/>
<line x1="301.5" y1="488" x2="301.5" y2="499" stroke="#000" stroke-width="1"/>
<line x1="317.5" y1="488" x2="317.5" y2="499" stroke="#000" stroke-width="1"/>
<line x1="333.5" y1="488" x2="333.5" y2="499" stroke="#000" stroke-width="1"/>
<line x1="341.5" y1="488" x2="341.5" y2="499" stroke="#000" stroke-width="1"/>
<line x1="371.5" y1="488" x2="371.5" y2="499" stroke="#000" stroke-width="1"/>
<line x1="386.5" y1="488" x2="386.5" y2="499" stroke="#000" stroke-width="1"/>
<line x1="424.5" y1="488" x2="424.5" y2="499" stroke="#000" stroke-width="1"/>
<line x1="575.5" y1="488" x2="575.5" y2="499" stroke="#000" stroke-width="1"/>
<line x1="581.5" y1="488" x2="581.5" y2="499" stroke="#000" stroke-width="1"/>
<line x1="629.5" y1="488" x2="629.5" y2="499" stroke="#000" stroke-width="1"/>
<text x="395.0" y="495.3" class="bl">ZENNE</text>
<text x="448.7" y="495.3" class="bl">ZENNE</text>
<text x="480.5" y="495.3" class="bl">ZENNE</text>
<text x="505.0" y="495.3" class="bl">100/1</text>
<text x="529.5" y="495.3" class="bl">71</text>
<text x="552.0" y="495.3" class="bl">RUPEL</text>
<text x="583.0" y="495.3" class="bl">RUPEL</text>
<text x="358.1" y="138.6" class="tt" textLength="81" lengthAdjust="spacingAndGlyphs">14-11-2010 07:00:00</text>
<g>
<text x="77" y="36.3" font-size="7.9" fill="#4c9dd4" stroke="#4c9dd4" stroke-width="0.12" textLength="58.8" lengthAdjust="spacingAndGlyphs">waterbouwkundig</text>
<text x="98.9" y="42.8" font-size="5.1" font-weight="bold" fill="#27306e" textLength="45.6" lengthAdjust="spacing">LABORATORIUM</text>
<polygon points="136.1,20.8 138.5,19.9 141.1,22.3 144.8,23.4 142.6,26 138.5,26.7 136.7,24.9" fill="#5fb0e2"/>
<polygon points="141.1,22.3 147.8,23 150.7,25.6 150.7,28.6 147.8,30.2 144.8,28.6 142.6,26 144.8,23.4" fill="#4a8ccc"/>
<polygon points="138.3,26.7 142.6,26 144.8,28.6 147.8,30.2 144.8,32.3 141.1,32.3 138.1,31.9" fill="#22306e"/>
<polygon points="138.3,26.7 140.8,26.3 141.0,32.3 138.1,31.9" fill="#5a6a9c"/>
</g>
<g>
<path d="M679,31.1 C675,31.3 671.5,31.5 668.4,32.1 C662,32.5 658.2,37 657.9,42.4 L655.9,41.8 C655.8,34 657.2,27 658.6,23 C659.6,20 662,19.3 664.3,20.7 Z" fill="#b2b5b9"/>
<path d="M676.3,33 L688.6,42.4 C691,44.3 691,46.6 688.4,48.1 L672.6,56.6 C677.5,53.5 680.4,48.5 680.4,44 C680.3,39.5 678.8,36 676.3,33 Z" fill="#cfd1d3"/>
<path d="M654.5,38.5 C655.3,42 656.6,45.8 659,48.5 C662.5,52.3 667.5,53.6 673,52.9 L672.1,54.3 C667,56.3 653,57.8 646.5,57.6 C643.6,57.5 643,56 644.4,54.3 C648.5,49.5 652.8,43.5 654.5,38.5 Z" fill="#a2c022"/>
<text x="682.2" y="70.3" font-size="6.6" font-style="italic" fill="#9cbc1c" stroke="#9cbc1c" stroke-width="0.15" text-anchor="end" textLength="42.7" lengthAdjust="spacing">departement</text>
<text x="682.2" y="83.7" font-size="11" font-style="italic" fill="#555558" text-anchor="end" textLength="66.7" lengthAdjust="spacing">Mobiliteit en</text>
<text x="682.2" y="96.5" font-size="11" font-style="italic" fill="#555558" text-anchor="end" textLength="92.2" lengthAdjust="spacing">Openbare Werken</text>
</g>
<g font-size="23.0" font-weight="bold" fill="#404043" stroke="#404043" stroke-width="1.25" stroke-linejoin="round">
<text x="77.8" y="78.6" textLength="119.4" lengthAdjust="spacingAndGlyphs">Situation</text>
<text x="205.6" y="78.6" textLength="106" lengthAdjust="spacingAndGlyphs">actuelle</text>
<text x="319.6" y="78.6" textLength="32" lengthAdjust="spacingAndGlyphs">de</text>
<text x="359" y="78.6" textLength="23.3" lengthAdjust="spacingAndGlyphs">la</text>
<text x="391" y="78.6" textLength="91" lengthAdjust="spacingAndGlyphs">Senne:</text>
</g>

<text x="670" y="519.2" font-size="12" fill="#a6a6a6">8</text>
</svg>
</body></html>
